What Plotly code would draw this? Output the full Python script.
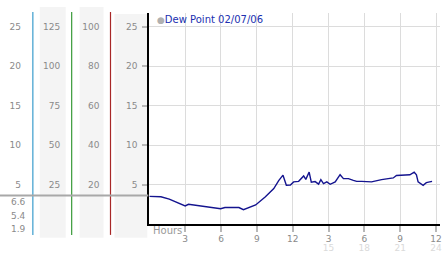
import plotly.graph_objects as go

# ---- data ----
hours = [0, 0.97, 1.67, 2.36, 3.0, 3.28, 4.03, 5.0, 5.42, 5.97, 6.33, 7.5, 7.88, 8.25, 8.9,
         9.72, 10.42, 10.83, 11.19, 11.47, 11.81, 12.08, 12.5, 12.92, 13.1, 13.38, 13.56,
         13.88, 14.17, 14.36, 14.58, 14.86, 15.14, 15.56, 15.97, 16.25, 16.67, 17.08, 17.36,
         17.78, 18.19, 18.6, 19.44, 20.42, 20.69, 21.39, 21.81, 22.17, 22.36, 22.5, 22.92,
         23.19, 23.67]
dew_point = [3.5, 3.46, 3.16, 2.75, 2.29, 2.5, 2.34, 2.16, 2.0, 1.94, 2.09, 2.09, 1.81, 2.0, 2.41,
             3.46, 4.5, 5.5, 6.19, 4.91, 4.94, 5.34, 5.41, 6.09, 5.66, 6.59, 5.31,
             5.38, 5.06, 5.63, 5.13, 5.34, 5.04, 5.34, 6.25, 5.75, 5.75, 5.54, 5.41,
             5.41, 5.34, 5.34, 5.63, 5.84, 6.16, 6.25, 6.25, 6.59, 6.25, 5.34, 4.91,
             5.25, 5.41]
series_name = "Dew Point 02/07/06"

y_ticks = [5, 10, 15, 20, 25]
col2_ticks = [25, 50, 75, 100, 125]
col3_ticks = [20, 40, 60, 80, 100]
x_tickvals = [3, 6, 9, 12, 15, 18, 21, 24]
x_ticktext = ["3", "6", "9", "12", "3", "6", "9", "12"]
x_ticktext2 = ["", "", "", "", "15", "18", "21", "24"]
stats_text = ["6.6", "5.4", "1.9"]
current_level = 3.6

# ---- geometry helpers ----
W, H = 442, 253
ML, MT, MB = 0, 13, 27
PH = H - MT - MB
X0 = 150
YMAX = 26.76
XMAX = (W - X0) / 12.0


def px(xp):
    return xp / W


def py(yp):
    return (H - MB - yp) / PH


FONT = "DejaVu Sans"
GREY = "#8a8a8a"

fig = go.Figure()
fig.add_trace(go.Scatter(x=hours, y=dew_point, mode="lines", name=series_name,
                         line=dict(color="#14148f", width=1.4), showlegend=False))

shapes = []
# grey bands
for x0, x1, y0 in [(40, 66, 7), (80, 104, 7), (115, 148, 14)]:
    shapes.append(dict(type="rect", xref="paper", yref="paper", x0=px(x0), x1=px(x1),
                       y0=py(240), y1=py(y0), fillcolor="#f4f4f4", line_width=0, layer="below"))
# colored vertical lines
for xc, col in [(33, "#3a9ccc"), (72, "#3a9a3a"), (111, "#a82828")]:
    shapes.append(dict(type="line", xref="paper", yref="paper", x0=px(xc), x1=px(xc),
                       y0=py(237), y1=py(12), line=dict(color=col, width=1.2)))
# current level line
shapes.append(dict(type="line", xref="paper", yref="y", x0=0, x1=px(149),
                   y0=current_level, y1=current_level, line=dict(color="#a8a8a8", width=2)))

annotations = [
    dict(x=px(156), y=py(20), xref="paper", yref="paper", xanchor="left", yanchor="middle",
         text="<span style='color:#b0b0b0;font-size:9px'>●</span>" + series_name, showarrow=False,
         font=dict(family=FONT, size=10, color="#2030b0")),
    dict(x=px(152), y=py(233), xref="paper", yref="paper", xanchor="left", yanchor="middle",
         text="Hours", showarrow=False, font=dict(family=FONT, size=10, color="#999999")),
]
for t, yp in zip(stats_text, [204, 218, 231]):
    annotations.append(dict(x=px(28), y=py(yp), xref="paper", yref="paper", xanchor="right",
                            yanchor="middle", text=t, showarrow=False,
                            font=dict(family=FONT, size=9, color=GREY)))

tickfont = dict(family=FONT, size=9, color=GREY)

fig.update_layout(
    width=W, height=H, margin=dict(l=ML, r=0, t=MT, b=MB, pad=0),
    paper_bgcolor="white", plot_bgcolor="white",
    shapes=shapes, annotations=annotations, showlegend=False,
    xaxis=dict(domain=[X0 / W, 1], range=[0, XMAX], tickvals=x_tickvals, showticklabels=False,
               ticks="outside", ticklen=6, tickwidth=2, tickcolor="#b8b8b8",
               showgrid=True, gridcolor="#dcdcdc", gridwidth=1, zeroline=False,
               showline=True, linecolor="black", linewidth=2),
    xaxis2=dict(overlaying="x", anchor="y", side="bottom", range=[0, XMAX], tickvals=x_tickvals,
                ticktext=x_ticktext, tickfont=tickfont, showgrid=False, zeroline=False,
                showline=False, ticks="", ticklabelstandoff=8, ticklabeloverflow="allow"),
    xaxis3=dict(overlaying="x", anchor="y", side="bottom", range=[0, XMAX], tickvals=x_tickvals,
                ticktext=x_ticktext2, tickfont=dict(family=FONT, size=9, color="#dadada"),
                showgrid=False, zeroline=False, showline=False, ticks="", ticklabelstandoff=17,
                ticklabeloverflow="allow"),
    yaxis=dict(range=[0, YMAX], tickvals=y_ticks, showticklabels=False,
               ticks="outside", ticklen=5, tickwidth=2, tickcolor="#b8b8b8",
               showgrid=True, gridcolor="#dcdcdc", gridwidth=1, zeroline=False,
               showline=True, linecolor="black", linewidth=2),
    yaxis2=dict(overlaying="y", anchor="free", position=px(138), range=[0, YMAX],
                tickvals=y_ticks, ticktext=[str(v) for v in y_ticks], tickfont=tickfont,
                showgrid=False, zeroline=False, showline=False, ticks=""),
    yaxis3=dict(overlaying="y", anchor="free", position=px(100), range=[0, YMAX * 4],
                tickvals=col3_ticks, ticktext=[str(v) for v in col3_ticks], tickfont=tickfont,
                showgrid=False, zeroline=False, showline=False, ticks=""),
    yaxis4=dict(overlaying="y", anchor="free", position=px(60.5), range=[0, YMAX * 5],
                tickvals=col2_ticks, ticktext=[str(v) for v in col2_ticks], tickfont=tickfont,
                showgrid=False, zeroline=False, showline=False, ticks=""),
    yaxis5=dict(overlaying="y", anchor="free", position=px(21), range=[0, YMAX],
                tickvals=y_ticks, ticktext=[str(v) for v in y_ticks], tickfont=tickfont,
                showgrid=False, zeroline=False, showline=False, ticks=""),
)
# invisible traces so the overlay axes are drawn
for xa, ya in [("x2", "y"), ("x3", "y"), ("x", "y2"), ("x", "y3"), ("x", "y4"), ("x", "y5")]:
    fig.add_trace(go.Scatter(x=[None], y=[None], xaxis=xa, yaxis=ya, showlegend=False,
                             hoverinfo="skip"))

fig.write_html("out.html")
